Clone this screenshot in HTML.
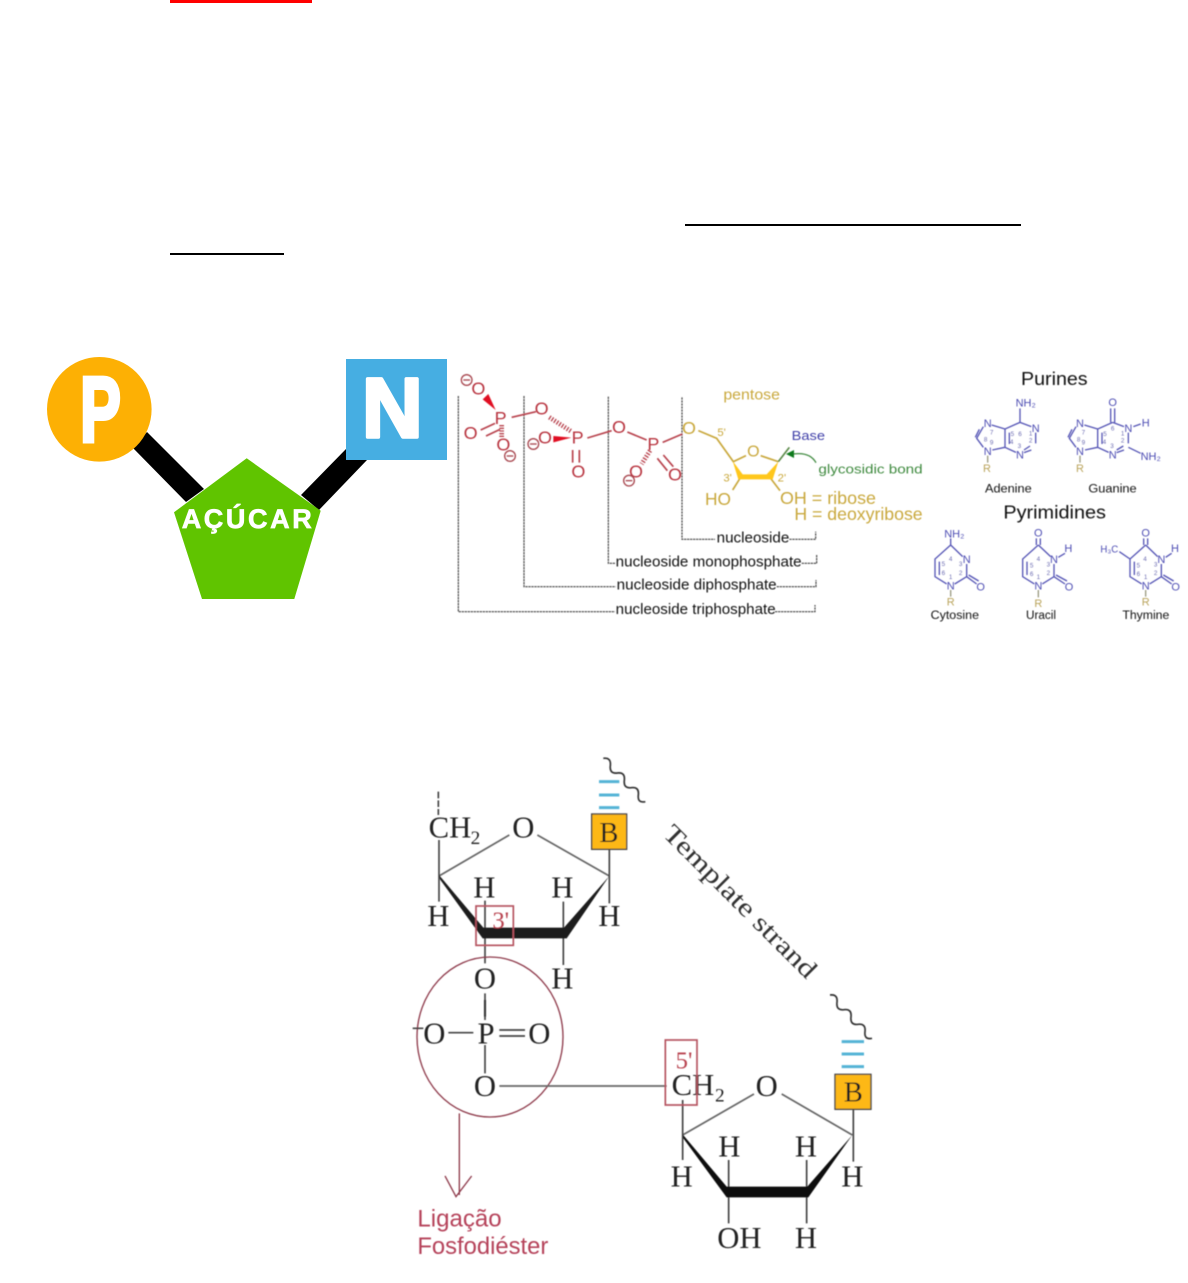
<!DOCTYPE html>
<html><head><meta charset="utf-8"><style>
html,body{margin:0;padding:0;background:#fff;width:1188px;height:1283px;overflow:hidden}
svg{display:block}
text{font-family:"Liberation Sans",sans-serif}
.s text{font-family:"Liberation Serif",serif}
</style></head><body>
<svg width="1188" height="1283" viewBox="0 0 1188 1283" xmlns="http://www.w3.org/2000/svg">
<defs>
<filter id="b" x="-5%" y="-5%" width="110%" height="110%"><feGaussianBlur stdDeviation="1.8"/></filter>
<filter id="b2" x="-5%" y="-5%" width="110%" height="110%"><feGaussianBlur stdDeviation="1.3"/></filter>
<filter id="b3" x="-5%" y="-5%" width="110%" height="110%"><feGaussianBlur stdDeviation="0.4"/></filter>
</defs>
<rect width="1188" height="1283" fill="#fff"/>
<rect x="170" y="0" width="142" height="3" fill="#f00"/>
<rect x="685" y="224" width="336" height="2" fill="#000"/>
<rect x="170" y="253" width="114" height="2" fill="#000"/>

<!-- P - sugar - N -->
<polygon points="133,448 147,432 204,489 186,502" fill="#000"/>
<polygon points="346,449 367,460 319,510 301,495" fill="#000"/>
<circle cx="99.3" cy="409.3" r="52.3" fill="#FDB004"/>
<text transform="translate(80,441.5) scale(.66,1)" font-size="93" font-weight="700" fill="#fff" stroke="#fff" stroke-width="4">P</text>
<rect x="346" y="359" width="101" height="101" fill="#46AEE2"/>
<text x="362" y="437" font-size="84" font-weight="700" fill="#fff" stroke="#fff" stroke-width="3.5" stroke-linejoin="round">N</text>
<polygon points="246.7,458.3 320.7,510.7 294.3,599 202,599 174,512.3" fill="#60C400"/>
<text x="181.7" y="528" font-size="27" font-weight="700" fill="#fff" stroke="#fff" stroke-width=".7" textLength="130" lengthAdjust="spacing">AÇÚCAR</text>

<!-- nucleotide -->
<g transform="translate(450,360) scale(.33333)" filter="url(#b)">
 <g fill="none" stroke="#444" stroke-width="3.5" stroke-dasharray="7 2">
  <path d="M25 108V755H495M975 755H1095V735"/>
  <path d="M222 108V680H497M980 680H1098V660"/>
  <path d="M475 110V610H497M1055 610H1100V585"/>
  <path d="M696 112V538H795M1018 538H1097V515"/>
 </g>
 <g stroke="#B8434E" stroke-width="5" fill="none">
  <path d="M185 172L258 155M412 234L485 212M532 216L590 240M638 247L697 222"/>
  <path d="M92 210L135 190M108 228L150 208"/>
  <path d="M368 270V308M388 270V308"/>
  <path d="M622 295L652 332M640 285L670 320"/>
  <path d="M155 195V232" stroke-dasharray="4 4" stroke-width="14"/>
  <path d="M298 172L365 215" stroke-dasharray="4 5" stroke-width="14"/>
  <path d="M600 272L575 312" stroke-dasharray="4 5" stroke-width="14"/>
 </g>
 <polygon points="98,118 115,102 137,150" fill="#e01020"/>
 <polygon points="310,228 364,233 310,247" fill="#e01020"/>
 <g fill="#B8343F" font-size="54" text-anchor="middle">
  <text x="85" y="104">O</text><text x="152" y="192">P</text><text x="275" y="164">O</text>
  <text x="62" y="237">O</text><text x="160" y="272">O</text>
  <text x="383" y="251">P</text><text x="285" y="251">O</text><text x="385" y="352">O</text>
  <text x="507" y="219">O</text><text x="610" y="270">P</text><text x="558" y="352">O</text><text x="675" y="361">O</text>
 </g>
 <g fill="none" stroke="#A8474F" stroke-width="4">
  <circle cx="50" cy="60" r="16"/><path d="M40 60H60"/>
  <circle cx="180" cy="288" r="16"/><path d="M170 288H190"/>
  <circle cx="250" cy="252" r="16"/><path d="M240 252H260"/>
  <circle cx="537" cy="362" r="16"/><path d="M527 362H547"/>
 </g>
 <g stroke="#C9A83C" stroke-width="5" fill="none">
  <path d="M745 212L800 235L850 305L888 287M932 287L985 305M870 355L848 390M962 355L990 392"/>
 </g>
 <polygon points="848,303 878,343 950,343 985,305 968,358 865,358" fill="#FFC71E"/>
 <path d="M985 305L1018 262" stroke="#5b8a4a" stroke-width="5"/>
 <path d="M1098 308C1085 285 1060 278 1030 282" fill="none" stroke="#3F8A3F" stroke-width="4"/>
 <polygon points="1008,282 1032,270 1032,294" fill="#0d7a1e"/>
 <g fill="#C9A83C">
  <text x="717" y="222" font-size="54" text-anchor="middle">O</text>
  <text x="910" y="290" font-size="48" text-anchor="middle">O</text>
  <text x="820" y="118" font-size="43" textLength="170" lengthAdjust="spacingAndGlyphs">pentose</text>
  <text x="802" y="228" font-size="34">5'</text>
  <text x="820" y="365" font-size="34">3'</text>
  <text x="983" y="365" font-size="34">2'</text>
  <text x="765" y="435" font-size="54" textLength="78" lengthAdjust="spacingAndGlyphs">HO</text>
  <text x="990" y="432" font-size="54" textLength="288" lengthAdjust="spacingAndGlyphs">OH = ribose</text>
  <text x="1033" y="480" font-size="54" textLength="385" lengthAdjust="spacingAndGlyphs">H = deoxyribose</text>
 </g>
 <text x="1025" y="240" font-size="38" fill="#3F3FA8" textLength="100" lengthAdjust="spacingAndGlyphs">Base</text>
 <text x="1105" y="340" font-size="39" fill="#3F8A3F" textLength="313" lengthAdjust="spacingAndGlyphs">glycosidic bond</text>
 <g fill="#111" font-size="43">
  <text x="800" y="547" textLength="218" lengthAdjust="spacingAndGlyphs">nucleoside</text>
  <text x="497" y="620" textLength="558" lengthAdjust="spacingAndGlyphs">nucleoside monophosphate</text>
  <text x="500" y="688" textLength="480" lengthAdjust="spacingAndGlyphs">nucleoside diphosphate</text>
  <text x="497" y="762" textLength="480" lengthAdjust="spacingAndGlyphs">nucleoside triphosphate</text>
 </g>
</g>

<!-- bases -->
<g transform="translate(920,360) scale(.33333)" filter="url(#b)">
 <g fill="#111">
  <text x="303" y="75" font-size="56" textLength="200" lengthAdjust="spacingAndGlyphs">Purines</text>
  <text x="250" y="475" font-size="56" textLength="308" lengthAdjust="spacingAndGlyphs">Pyrimidines</text>
  <text x="195" y="398" font-size="37" textLength="140" lengthAdjust="spacingAndGlyphs">Adenine</text>
  <text x="505" y="398" font-size="37" textLength="145" lengthAdjust="spacingAndGlyphs">Guanine</text>
  <text x="32" y="777" font-size="37" textLength="145" lengthAdjust="spacingAndGlyphs">Cytosine</text>
  <text x="318" y="777" font-size="37" textLength="90" lengthAdjust="spacingAndGlyphs">Uracil</text>
  <text x="607" y="777" font-size="37" textLength="141" lengthAdjust="spacingAndGlyphs">Thymine</text>
 </g>
 <g fill="none" stroke="#5555B5" stroke-width="4">
  <path d="M300 187L334 200M347 218V250M334 270L312 278M288 277L255 262V207L300 187M300 187V145M268 218V252M330 258L312 270M255 207L215 195M255 262L217 270M190 200L170 235L190 262M178 208L166 232"/>
  <path d="M578 187L612 200M625 218V250M612 270L590 278M566 277L533 262V207L578 187M572 187V145M584 187V145M546 218V252M610 258L590 270M533 207L493 195M533 262L495 270M468 200L448 235L468 262M456 208L444 232M640 200L662 192M625 262L662 280"/>
  <path d="M92 555L128 590M140 612V650L104 672M80 672L45 650V597L92 555M92 555V535M58 605V645M140 650L170 672M146 645L176 663"/>
  <path d="M355 555L392 590M402 612V650L367 672M343 672L308 650V597L355 555M349 555V535M361 555V535M321 605V645M402 650L435 672M408 645L441 663M415 592L435 580"/>
  <path d="M677 555L713 590M724 612V650L689 672M665 672L630 650V597L677 555M671 555V535M683 555V535M643 605V645M724 650L755 672M730 645L761 663M737 592L755 580M630 597L598 575"/>
 </g>
 <g stroke="#9a9a80" stroke-width="4">
  <path d="M203 287V308M480 287V308M92 690V710M355 690V712M677 690V710"/>
 </g>
 <g fill="#4D4DB3" font-size="33" text-anchor="middle">
  <text x="203" y="201">N</text><text x="347" y="216">N</text><text x="300" y="295">N</text><text x="203" y="285">N</text>
  <text x="317" y="139">NH₂</text>
  <text x="480" y="201">N</text><text x="625" y="216">N</text><text x="578" y="295">N</text><text x="480" y="285">N</text>
  <text x="578" y="138">O</text><text x="677" y="199">H</text><text x="692" y="300">NH₂</text>
  <text x="103" y="532">NH₂</text><text x="140" y="609">N</text><text x="92" y="689">N</text><text x="182" y="691">O</text>
  <text x="355" y="530">O</text><text x="402" y="609">N</text><text x="355" y="689">N</text><text x="447" y="691">O</text><text x="445" y="576">H</text>
  <text x="677" y="530">O</text><text x="724" y="609">N</text><text x="677" y="689">N</text><text x="767" y="691">O</text><text x="765" y="576">H</text>
  <text x="568" y="578" font-size="29">H₃C</text>
 </g>
 <g fill="#6a6ab0" font-size="19" text-anchor="middle">
  <text x="277" y="228">5</text><text x="300" y="228">6</text><text x="332" y="226">1</text><text x="332" y="248">2</text><text x="298" y="264">3</text><text x="275" y="252">4</text><text x="215" y="223">7</text><text x="197" y="245">8</text><text x="215" y="254">9</text>
  <text x="555" y="228">5</text><text x="578" y="212">6</text><text x="608" y="226">1</text><text x="608" y="248">2</text><text x="576" y="264">3</text><text x="553" y="252">4</text><text x="490" y="223">7</text><text x="476" y="245">8</text><text x="490" y="254">9</text>
  <text x="70" y="618">5</text><text x="70" y="645">6</text><text x="92" y="657">1</text><text x="122" y="645">2</text><text x="122" y="618">3</text><text x="92" y="603">4</text>
  <text x="335" y="622">5</text><text x="335" y="648">6</text><text x="355" y="657">1</text><text x="385" y="645">2</text><text x="385" y="620">3</text><text x="355" y="603">4</text>
  <text x="655" y="622">5</text><text x="655" y="648">6</text><text x="677" y="657">1</text><text x="707" y="645">2</text><text x="707" y="620">3</text><text x="675" y="603">4</text>
 </g>
 <g fill="#B9A35A" font-size="33" text-anchor="middle">
  <text x="201" y="336">R</text><text x="480" y="336">R</text><text x="92" y="736">R</text><text x="355" y="741">R</text><text x="677" y="736">R</text>
 </g>
</g>

<!-- bottom diagram -->
<g class="s" transform="translate(400,750) scale(.33333)" filter="url(#b2)">
 <g fill="none" stroke="#444" stroke-width="5">
  <path d="M117 378L328 255M412 255L628 378" stroke="#666"/>
  <path d="M115 125V195" stroke-dasharray="20 6"/>
  <path d="M117 270V455M255 452V640M255 730V810M490 455V645M628 300V460"/>
 </g>
 <polygon points="117,375 250,533 492,533 628,378 500,565 248,565 120,388" fill="#1a1a1a"/>
 <g fill="#222" font-size="92">
  <text x="86" y="262">CH</text><text x="212" y="282" font-size="58">2</text>
  <text x="370" y="262" text-anchor="middle">O</text>
  <text x="115" y="528" text-anchor="middle">H</text>
  <text x="253" y="442" text-anchor="middle">H</text>
  <text x="487" y="442" text-anchor="middle">H</text>
  <text x="628" y="528" text-anchor="middle">H</text>
  <text x="255" y="716" text-anchor="middle">O</text>
  <text x="487" y="716" text-anchor="middle">H</text>
 </g>
 <rect x="575" y="192" width="105" height="106" fill="#FDB813" stroke="#444" stroke-width="4"/>
 <text x="627" y="276" font-size="86" text-anchor="middle" fill="#222">B</text>
 <path d="M597 95H658M597 135H658M597 173H658" stroke="#55B4D6" stroke-width="9"/>
 <path d="M610 25q24 -3 21 22t21 22t21 22t21 22t21 22t21 20" fill="none" stroke="#333" stroke-width="5"/>
 <rect x="228" y="468" width="112" height="118" fill="none" stroke="#B5525F" stroke-width="5"/>
 <text x="277" y="536" font-size="74" fill="#B8434F">3'</text>
</g>

<g class="s" transform="translate(400,1000) scale(.33333)" filter="url(#b2)">
 <ellipse cx="270" cy="111" rx="219" ry="240" fill="none" stroke="#8E3A4B" stroke-width="4"/>
 <g fill="none" stroke="#444" stroke-width="5">
  <path d="M38 85H70M145 98H220M298 90H375M298 108H375M255 0V50M255 135V220"/>
  <path d="M298 258H800" stroke="#666"/>
  <path d="M848 405L1062 282M1145 282L1357 405" stroke="#666"/>
  <path d="M848 300V480M986 480V670M1220 480V670M1360 328V485"/>
 </g>
 <polygon points="848,403 980,560 1222,560 1357,405 1225,592 980,592 850,415" fill="#111"/>
 <g fill="#222" font-size="92">
  <text x="103" y="130" text-anchor="middle">O</text>
  <text x="258" y="130" text-anchor="middle">P</text>
  <text x="418" y="130" text-anchor="middle">O</text>
  <text x="255" y="288" text-anchor="middle">O</text>
  <text x="815" y="285">CH</text><text x="945" y="305" font-size="58">2</text>
  <text x="1100" y="288" text-anchor="middle">O</text>
  <text x="845" y="559" text-anchor="middle">H</text>
  <text x="988" y="469" text-anchor="middle">H</text>
  <text x="1218" y="469" text-anchor="middle">H</text>
  <text x="1357" y="559" text-anchor="middle">H</text>
  <text x="1018" y="744" text-anchor="middle">OH</text>
  <text x="1218" y="744" text-anchor="middle">H</text>
 </g>
 <rect x="796" y="120" width="95" height="195" fill="none" stroke="#B5525F" stroke-width="5"/>
 <text x="827" y="206" font-size="74" fill="#B8434F">5'</text>
 <rect x="1305" y="223" width="108" height="105" fill="#FDB813" stroke="#444" stroke-width="4"/>
 <text x="1360" y="304" font-size="86" text-anchor="middle" fill="#222">B</text>
 <path d="M1325 125H1392M1325 162H1392M1325 200H1392" stroke="#55B4D6" stroke-width="9"/>
 <path d="M1290 -15q24 -3 21 22t21 22t21 22t21 22t21 22t21 20" fill="none" stroke="#333" stroke-width="5"/>
 <path d="M178 340V585M135 528L168 590L215 528" fill="none" stroke="#8E3A4B" stroke-width="4"/>
 <g fill="#B5435A" font-size="72">
  <text x="52" y="680" textLength="253" lengthAdjust="spacingAndGlyphs" style="font-family:'Liberation Sans',sans-serif">Ligação</text>
  <text x="52" y="762" textLength="393" lengthAdjust="spacingAndGlyphs" style="font-family:'Liberation Sans',sans-serif">Fosfodiéster</text>
 </g>
</g>
<g class="s" filter="url(#b3)">
 <text transform="translate(661.7,835) rotate(45)" font-size="26" fill="#333" textLength="205" lengthAdjust="spacingAndGlyphs">Template strand</text>
</g>
</svg>
</body></html>
